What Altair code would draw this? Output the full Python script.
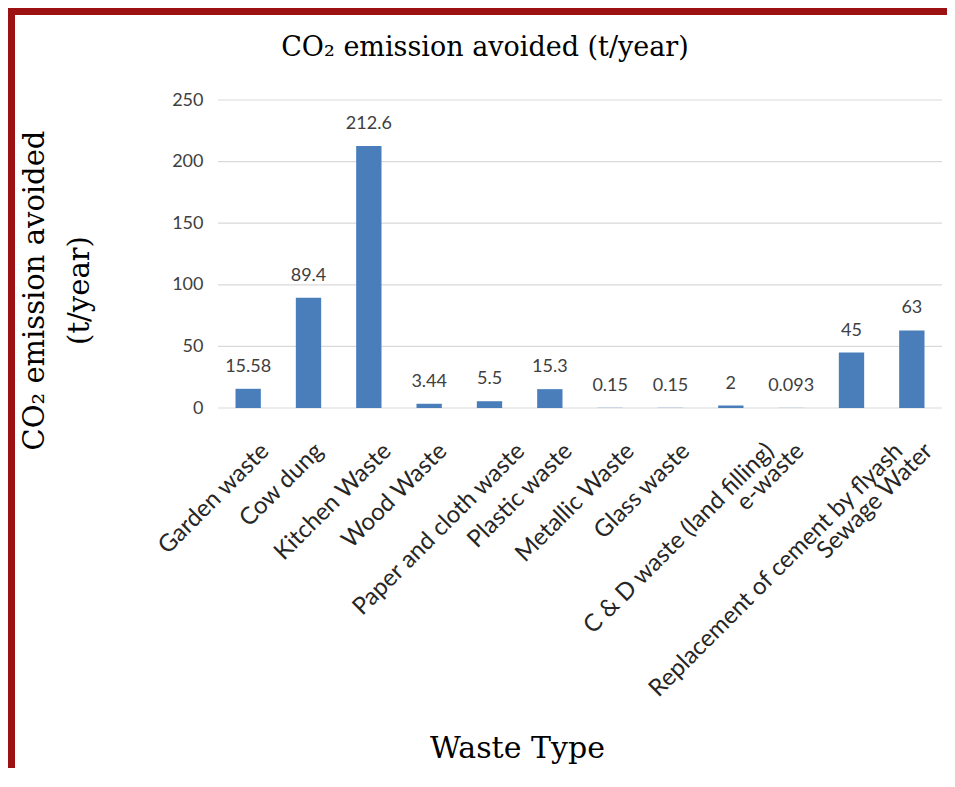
import altair as alt
import pandas as pd

categories = [
    "Garden waste", "Cow dung", "Kitchen Waste", "Wood Waste",
    "Paper and cloth waste", "Plastic waste", "Metallic Waste", "Glass waste",
    "C & D waste (land filling)", "e-waste",
    "Replacement of cement by flyash", "Sewage Water",
]
values = [15.58, 89.4, 212.6, 3.44, 5.5, 15.3, 0.15, 0.15, 2, 0.093, 45, 63]
y_ticks = [0, 50, 100, 150, 200, 250]

df = pd.DataFrame({"waste": categories, "co2": values})
grid_df = pd.DataFrame({"tick": y_ticks})
frame_df = pd.DataFrame({"a": [0]})

W, H = 724, 308
PAD = {"left": 210, "top": 92, "right": 5, "bottom": 360}

SERIF = "DejaVu Serif"
SANS = "Lato"

xscale = alt.Scale(paddingInner=0.58, paddingOuter=0.29)
yscale = alt.Scale(domain=[0, 250], nice=False)

x_axis = alt.Axis(
    title="Waste Type", titleFont=SERIF, titleFontSize=30, titleFontWeight="normal",
    titleColor="#000000", titleX=299, titleY=349, titleAlign="center",
    titleBaseline="alphabetic", titleAngle=0,
    labelAngle=-45, labelAlign="right", labelBaseline="middle",
    labelPadding=39, labelOffset=alt.ExprRef(expr="1.6*length(datum.value) - 2"),
    labelFont=SANS, labelFontSize=24, labelColor="#262626",
    labelLimit=0, labelOverlap=False, labelBound=False,
    ticks=False, domain=False, grid=False, zindex=1,
)
y_axis = alt.Axis(
    title=["CO₂ emission avoided", "(t/year)"], titleFont=SERIF, titleFontSize=29,
    titleFontWeight="normal", titleColor="#000000", titleAngle=270,
    titleX=-175, titleY=190, titleAlign="center", titleBaseline="alphabetic",
    titleLineHeight=45,
    values=y_ticks, labelFont=SANS, labelFontSize=18, labelColor="#404040",
    labelPadding=15, ticks=False, domain=False, grid=False, zindex=1,
)

frame = alt.Chart(frame_df).mark_rect(color="white").encode(
    x=alt.value(-203), x2=alt.value(W + 100), y=alt.value(-85), y2=alt.value(H + 500)
)

grid = alt.Chart(grid_df).mark_rule(color="#d9d9d9", strokeWidth=1.2).encode(
    y=alt.Y("tick:Q", scale=yscale, axis=y_axis)
)

bars = alt.Chart(df).mark_bar(color="#4a7ebb").encode(
    x=alt.X("waste:N", sort=categories, scale=xscale, axis=x_axis),
    y=alt.Y("co2:Q", scale=yscale, axis=y_axis),
)

labels = alt.Chart(df).mark_text(
    font=SANS, fontSize=18, color="#404040", baseline="middle", dy=-22
).encode(
    x=alt.X("waste:N", sort=categories, scale=xscale),
    y=alt.Y("co2:Q", scale=yscale),
    text=alt.Text("co2:Q", format="~g"),
)

chart = alt.layer(frame, grid, bars, labels).properties(
    width=W, height=H,
    autosize=alt.AutoSizeParams(type="none"),
    padding=PAD,
    background="#9c1111",
    title=alt.TitleParams(
        "CO₂ emission avoided (t/year)", font=SERIF, fontSize=27,
        fontWeight="normal", color="#000000", anchor="middle", frame="group",
        dx=-95, offset=-68, baseline="alphabetic", zindex=1,
    ),
).configure_view(stroke=None)

chart.save("out.html", embed_options={"renderer": "svg", "actions": False})
